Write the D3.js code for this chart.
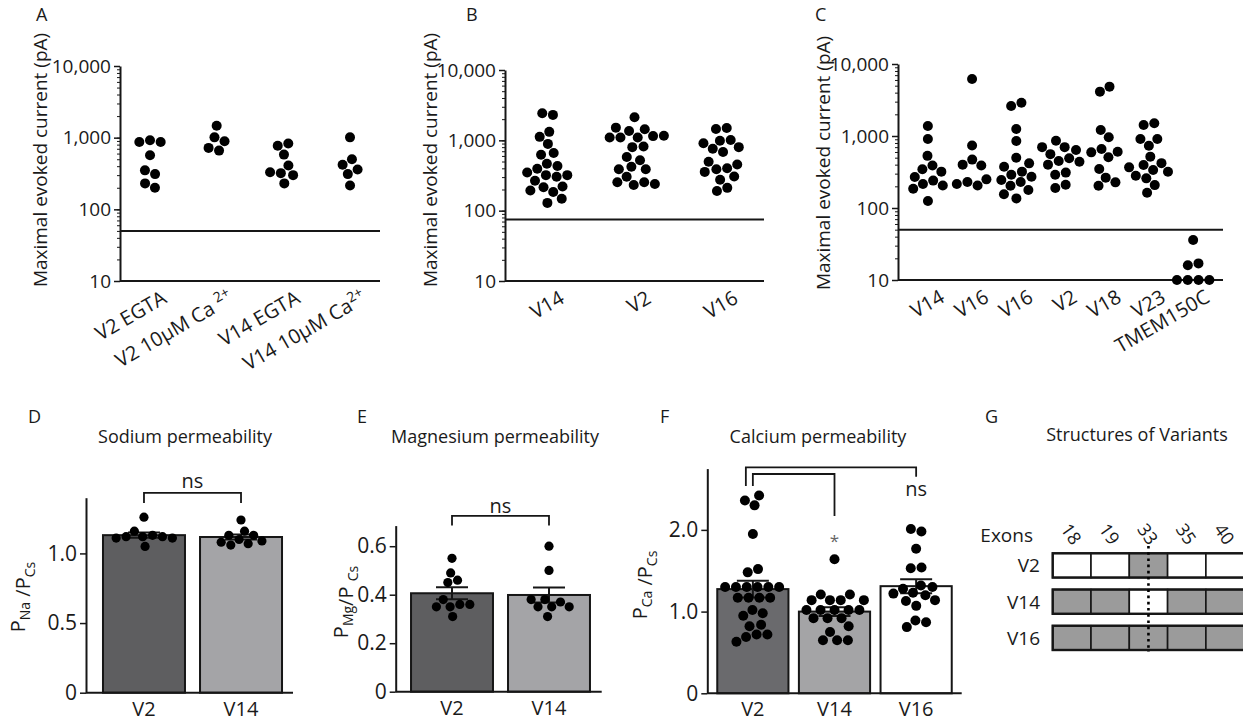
<!DOCTYPE html>
<html>
<head>
<meta charset="utf-8">
<script src="https://cdn.jsdelivr.net/npm/d3@7"></script>
<style>
  body { margin: 0; background: #fff; }
  svg { font-family: "Open Sans", sans-serif; }
</style>
</head>
<body>
<svg width="1243" height="723"></svg>
<script>
// ---- data: top row, maximal evoked current (pA), one array per group ----
const catsA = ["V2 EGTA", "V2 10\u00b5M Ca 2+", "V14 EGTA", "V14 10\u00b5M Ca2+"];
const currentA = [
    [870, 920, 870, 570, 350, 310, 230, 200],
    [1470, 890, 1010, 660, 720],
    [770, 830, 580, 410, 320, 300, 330, 230],
    [1010, 500, 420, 360, 310, 215]
];
const thresholdA = 50;

const catsB = ["V14", "V2", "V16"];
const currentB = [
    [2420, 2300, 1120, 1320, 890, 660, 625, 464, 395, 431, 320, 303, 348, 320, 267, 220, 215, 184, 194, 148, 129],
    [2135, 1360, 1515, 1437, 1148, 1100, 1100, 1160, 1100, 817, 800, 522, 581, 422, 387, 387, 303, 253, 232, 240, 253],
    [1452, 1500, 989, 800, 759, 681, 908, 1011, 495, 400, 387, 454, 356, 306, 275, 211, 190]
];
const thresholdB = 75;

const catsC = ["V14", "V16", "V16", "V2", "V18", "V23", "TMEM150C"];
const currentC = [
    [1380, 910, 530, 390, 345, 320, 270, 240, 215, 205, 185, 125],
    [6200, 740, 400, 390, 470, 250, 230, 205, 215],
    [2610, 2900, 1250, 850, 500, 417, 375, 320, 290, 272, 245, 230, 204, 178, 155, 136],
    [860, 700, 700, 640, 560, 490, 450, 440, 400, 310, 290, 210, 190],
    [4130, 4850, 1210, 960, 660, 605, 593, 506, 348, 264, 204, 227],
    [1420, 1500, 910, 910, 734, 517, 395, 337, 367, 319, 258, 208, 163, 420, 280],
    [36, 17, 16, 10, 10, 10, 10]
];
const thresholdC = 50;
const logMajor = [10, 100, 1000, 10000];

// ---- data: bottom row, permeability ratios ----
const barCatsD = ["V2", "V14"];
const pNa = [
    [1.26, 1.16, 1.13, 1.12, 1.12, 1.12, 1.11, 1.11, 1.05],
    [1.24, 1.16, 1.13, 1.13, 1.10, 1.09, 1.08, 1.07, 1.06]
];
const ticksD = [0, 0.5, 1.0];

const barCatsE = ["V2", "V14"];
const pMg = [
    [0.55, 0.49, 0.45, 0.46, 0.38, 0.36, 0.35, 0.36, 0.35, 0.31],
    [0.60, 0.50, 0.38, 0.37, 0.38, 0.35, 0.35, 0.35, 0.31]
];
const ticksE = [0, 0.2, 0.4, 0.6];

const barCatsF = ["V2", "V14", "V16"];
const pCa = [
    [2.42, 2.30, 2.36, 1.95, 1.48, 1.52, 1.30, 1.30, 1.30, 1.30, 1.30, 1.30, 1.17, 1.17, 1.17, 1.17,
     1.02, 0.98, 0.95, 0.84, 0.82, 0.72, 0.69, 0.72, 0.63],
    [1.64, 1.21, 1.21, 1.14, 1.14, 1.14, 1.14, 1.02, 1.02, 1.02, 1.02, 1.02, 0.92, 0.92, 0.92,
     0.82, 0.75, 0.65, 0.65, 0.65],
    [2.01, 1.98, 1.77, 1.54, 1.53, 1.32, 1.28, 1.30, 1.23, 1.20, 1.22, 1.14, 1.13, 1.07, 0.89, 0.87, 0.81]
];
const ticksF = [0, 1.0, 2.0];

// ---- data: exon structure ----
const exons = ["18", "19", "33", "35", "40"];
const variants = ["V2", "V14", "V16"];
const exonFilled = [
    [0, 0, 1, 0, 0],
    [1, 1, 0, 1, 1],
    [1, 1, 1, 1, 1]
];

const svg = d3.select("svg");
const ink = "#161616";
const txt = "#1a1a1a";

// simple beeswarm: y fixed at the value, x pushed apart by collisions
function swarm(values, cx, y, r) {
    const nodes = values.map((v, i) => ({
        x: cx + (i % 2 ? 1 : -1) * i * 0.7,
        y: y(v),
        fy: y(v)
    }));
    const sim = d3.forceSimulation(nodes)
        .force("x", d3.forceX(cx).strength(0.06))
        .force("collide", d3.forceCollide(r + 0.4).iterations(3))
        .stop();
    for (let i = 0; i < 300; i++) sim.tick();
    return nodes;
}

function panelLetter(s, x, y) {
    svg.append("text").attr("x", x).attr("y", y)
        .attr("font-size", 18).attr("fill", txt).text(s);
}

function addLabel(sel, s) {
    const m = s.match(/^(.*?)(2\+)$/);
    if (m) {
        sel.append("tspan").text(m[1]);
        sel.append("tspan").attr("dy", -8).attr("font-size", 14).text(m[2]);
    } else {
        sel.text(s);
    }
}

function scatterPanel(cfg) {
    const g = svg.append("g");
    const y = d3.scaleLog().domain([10, 10000]).range([cfg.bottom, cfg.top]);
    const x = d3.scalePoint().domain(d3.range(cfg.cats.length))
        .range([cfg.left, cfg.right]).padding(cfg.pad);

    // minor ticks
    g.append("g").attr("transform", `translate(${cfg.left},0)`)
        .call(d3.axisLeft(y).tickValues(y.ticks()).tickSize(3).tickSizeOuter(0).tickFormat(""))
        .call(a => a.select(".domain").remove())
        .call(a => a.selectAll("line").attr("stroke", ink).attr("stroke-width", 1));
    // major ticks + labels
    g.append("g").attr("transform", `translate(${cfg.left},0)`)
        .call(d3.axisLeft(y).tickValues(logMajor).tickSize(6).tickSizeOuter(0)
            .tickPadding(3).tickFormat(d3.format(",")))
        .call(a => a.select(".domain").attr("stroke", ink).attr("stroke-width", 2))
        .call(a => a.selectAll("line").attr("stroke", ink).attr("stroke-width", 1.5))
        .call(a => a.selectAll("text").attr("font-size", 19).attr("fill", txt)
            .attr("font-family", "Open Sans"));

    // x axis line
    g.append("line").attr("x1", cfg.left).attr("x2", cfg.right)
        .attr("y1", y(10)).attr("y2", y(10)).attr("stroke", ink).attr("stroke-width", 2);
    // detection threshold
    g.append("line").attr("x1", cfg.left).attr("x2", cfg.right)
        .attr("y1", y(cfg.threshold)).attr("y2", y(cfg.threshold))
        .attr("stroke", ink).attr("stroke-width", 2);

    cfg.values.forEach((vals, i) => {
        const pts = swarm(vals, x(i), y, 5);
        g.append("g").selectAll("circle").data(pts).join("circle")
            .attr("cx", d => d.x).attr("cy", d => d.y).attr("r", 5).attr("fill", "#000");
    });

    cfg.cats.forEach((c, i) => {
        const t = g.append("text")
            .attr("transform", `translate(${x(i) + 18},${cfg.bottom + 21}) rotate(-30)`)
            .attr("text-anchor", "end").attr("font-size", 20).attr("fill", txt);
        addLabel(t, c);
    });

    g.append("text")
        .attr("transform", `translate(${cfg.ylabX},${cfg.ylabY}) rotate(-90)`)
        .attr("text-anchor", "middle").attr("font-size", 19).attr("fill", txt)
        .text("Maximal evoked current (pA)");
}

function ratioLabel(g, x, yc, parts) {
    const t = g.append("text")
        .attr("transform", `translate(${x},${yc}) rotate(-90)`)
        .attr("text-anchor", "middle").attr("font-size", 20).attr("fill", txt);
    parts.forEach(p => {
        if (p.sub) {
            t.append("tspan").attr("dy", 5).attr("font-size", 14).text(p.sub);
            t.append("tspan").attr("dy", -5).text("");
        } else {
            t.append("tspan").text(p.t);
        }
    });
}

function barPanel(cfg) {
    const g = svg.append("g");
    const y = d3.scaleLinear().domain([0, cfg.ymax]).range([cfg.bottom, cfg.top]);
    const x = d3.scaleBand().domain(cfg.cats).range([cfg.left, cfg.bandRight])
        .paddingInner(cfg.pi).paddingOuter(cfg.po);
    const stats = cfg.values.map((v, i) => ({
        cat: cfg.cats[i],
        mean: d3.mean(v),
        sem: d3.deviation(v) / Math.sqrt(v.length)
    }));

    g.append("g").selectAll("rect").data(stats).join("rect")
        .attr("x", d => x(d.cat)).attr("width", x.bandwidth())
        .attr("y", d => y(d.mean)).attr("height", d => y(0) - y(d.mean))
        .attr("fill", (d, i) => cfg.fills[i]).attr("stroke", ink).attr("stroke-width", 2);

    // SEM
    const cap = 16;
    stats.forEach(d => {
        const cx = x(d.cat) + x.bandwidth() / 2;
        const e = g.append("g").attr("stroke", ink).attr("stroke-width", 2);
        e.append("line").attr("x1", cx).attr("x2", cx)
            .attr("y1", y(d.mean - d.sem)).attr("y2", y(d.mean + d.sem));
        [d.mean - d.sem, d.mean + d.sem].forEach(v =>
            e.append("line").attr("x1", cx - cap).attr("x2", cx + cap)
                .attr("y1", y(v)).attr("y2", y(v)));
    });

    cfg.values.forEach((vals, i) => {
        const pts = swarm(vals, x(cfg.cats[i]) + x.bandwidth() / 2, y, cfg.r);
        g.append("g").selectAll("circle").data(pts).join("circle")
            .attr("cx", d => d.x).attr("cy", d => d.y).attr("r", cfg.r).attr("fill", "#000");
    });

    // axes
    g.append("g").attr("transform", `translate(${cfg.left},0)`)
        .call(d3.axisLeft(y).tickValues(cfg.ticks).tickSize(6).tickSizeOuter(0).tickPadding(3)
            .tickFormat(d => d === 0 ? "0" : d3.format(".1f")(d)))
        .call(a => a.select(".domain").attr("stroke", ink).attr("stroke-width", 2))
        .call(a => a.selectAll("line").attr("stroke", ink).attr("stroke-width", 1.5))
        .call(a => a.selectAll("text").attr("font-size", 21).attr("fill", txt)
            .attr("font-family", "Open Sans"));
    g.append("line").attr("x1", cfg.left).attr("x2", cfg.axisRight)
        .attr("y1", y(0)).attr("y2", y(0)).attr("stroke", ink).attr("stroke-width", 2);

    g.selectAll("text.xl").data(cfg.cats).join("text").attr("class", "xl")
        .attr("x", d => x(d) + x.bandwidth() / 2).attr("y", cfg.bottom + 23)
        .attr("text-anchor", "middle").attr("font-size", 20).attr("fill", txt).text(d => d);

    g.append("text").attr("x", cfg.titleX).attr("y", 443).attr("text-anchor", "middle")
        .attr("font-size", 18).attr("fill", txt).text(cfg.title);

    // significance brackets
    cfg.brackets.forEach(b => {
        const x1 = x(b.from) + x.bandwidth() / 2 + (b.dx || 0);
        const x2 = x(b.to) + x.bandwidth() / 2;
        g.append("path")
            .attr("d", `M${x1},${y(b.legL)}V${y(b.top)}H${x2}V${y(b.legR)}`)
            .attr("fill", "none").attr("stroke", ink).attr("stroke-width", 1.8);
    });
    cfg.marks.forEach(m => {
        g.append("text").attr("x", x(m.at) + x.bandwidth() / 2 + (m.dx || 0)).attr("y", y(m.v))
            .attr("text-anchor", "middle").attr("font-size", m.size).attr("fill", m.color)
            .text(m.text);
    });

    ratioLabel(g, cfg.ylabX, cfg.ylabY, cfg.ylab);
}

// ---- top row ----
panelLetter("A", 36, 21);
panelLetter("B", 466, 21);
panelLetter("C", 815, 21);

scatterPanel({ cats: catsA, values: currentA, threshold: thresholdA,
    left: 120, right: 380, top: 66, bottom: 281, pad: 0.45, ylabX: 47, ylabY: 160 });
scatterPanel({ cats: catsB, values: currentB, threshold: thresholdB,
    left: 505, right: 764, top: 70, bottom: 281, pad: 0.49, ylabX: 437, ylabY: 160 });
scatterPanel({ cats: catsC, values: currentC, threshold: thresholdC,
    left: 898, right: 1223, top: 64, bottom: 280, pad: 0.675, ylabX: 830, ylabY: 163 });

// ---- bottom row ----
panelLetter("D", 28, 423);
panelLetter("E", 357, 423);
panelLetter("F", 660, 423);
panelLetter("G", 985, 423);

barPanel({ cats: barCatsD, values: pNa, ticks: ticksD, ymax: 1.4,
    left: 86, bandRight: 299, axisRight: 293, pi: 0.155, po: 0.175, top: 497.7, bottom: 692.7,
    fills: ["#5e5e60", "#a4a4a7"], r: 4.6, title: "Sodium permeability", titleX: 185,
    brackets: [{ from: "V2", to: "V14", top: 1.434, legL: 1.362, legR: 1.362 }],
    marks: [{ at: "V2", dx: 48.5, v: 1.47, text: "ns", size: 20, color: txt }],
    ylabX: 25, ylabY: 597, ylab: [{ t: "P" }, { sub: "Na" }, { t: " /P" }, { sub: "Cs" }] });

barPanel({ cats: barCatsE, values: pMg, ticks: ticksE, ymax: 0.685,
    left: 395.7, bandRight: 605.3, axisRight: 601.7, pi: 0.155, po: 0.158, top: 525.6, bottom: 691.7,
    fills: ["#5e5e60", "#a4a4a7"], r: 4.6, title: "Magnesium permeability", titleX: 495,
    brackets: [{ from: "V2", to: "V14", top: 0.725, legL: 0.685, legR: 0.685 }],
    marks: [{ at: "V2", dx: 48.5, v: 0.736, text: "ns", size: 20, color: txt }],
    ylabX: 348, ylabY: 602, ylab: [{ t: "P" }, { sub: "Mg" }, { t: "/P " }, { sub: "Cs" }] });

barPanel({ cats: barCatsF, values: pCa, ticks: ticksF, ymax: 2.75,
    left: 707.3, bandRight: 961.7, axisRight: 961.7, pi: 0.128, po: 0.122, top: 468.6, bottom: 693.3,
    fills: ["#6a6a6d", "#a4a4a6", "#ffffff"], r: 5, title: "Calcium permeability", titleX: 818,
    brackets: [
        { from: "V2", to: "V16", dx: -7, top: 2.766, legL: 2.537, legR: 2.65 },
        { from: "V2", to: "V14", top: 2.684, legL: 2.537, legR: 2.17 }
    ],
    marks: [
        { at: "V16", v: 2.41, text: "ns", size: 20, color: txt },
        { at: "V14", v: 1.79, text: "*", size: 17, color: "#666" }
    ],
    ylabX: 647, ylabY: 585, ylab: [{ t: "P" }, { sub: "Ca" }, { t: " /P" }, { sub: "Cs" }] });

// ---- G: exon structure of the variants ----
const gG = svg.append("g");
const ex = d3.scaleBand().domain(exons).range([1052.7, 1244.2]);
const vr = d3.scaleBand().domain(variants).range([553.3, 650]).paddingInner(0.33);

gG.append("text").attr("x", 1137).attr("y", 441).attr("text-anchor", "middle")
    .attr("font-size", 18).attr("fill", txt).text("Structures of Variants");
gG.append("text").attr("x", 1033).attr("y", 542).attr("text-anchor", "end")
    .attr("font-size", 19).attr("fill", txt).text("Exons");
gG.selectAll("text.ex").data(exons).join("text").attr("class", "ex")
    .attr("transform", d => `translate(${ex(d) + ex.bandwidth() / 2 - 2},${535}) rotate(55)`)
    .attr("text-anchor", "middle").attr("dominant-baseline", "middle")
    .attr("font-size", 18).attr("fill", txt).text(d => d);

variants.forEach((v, vi) => {
    gG.selectAll(null).data(exons).join("rect")
        .attr("x", d => ex(d)).attr("y", vr(v))
        .attr("width", ex.bandwidth()).attr("height", vr.bandwidth())
        .attr("fill", (d, i) => exonFilled[vi][i] ? "#9b9b9b" : "#fff")
        .attr("stroke", ink).attr("stroke-width", 1.6);
    gG.append("rect").attr("x", ex.range()[0]).attr("y", vr(v))
        .attr("width", ex.range()[1] - ex.range()[0]).attr("height", vr.bandwidth())
        .attr("fill", "none").attr("stroke", ink).attr("stroke-width", 2.4);
    gG.append("text").attr("x", 1040).attr("y", vr(v) + vr.bandwidth() / 2 + 7)
        .attr("text-anchor", "end").attr("font-size", 19).attr("fill", txt).text(v);
});

gG.append("line")
    .attr("x1", ex("33") + ex.bandwidth() / 2).attr("x2", ex("33") + ex.bandwidth() / 2)
    .attr("y1", 546).attr("y2", 652)
    .attr("stroke", "#000").attr("stroke-width", 2.6).attr("stroke-dasharray", "2.6,3.6");
</script>
</body>
</html>
